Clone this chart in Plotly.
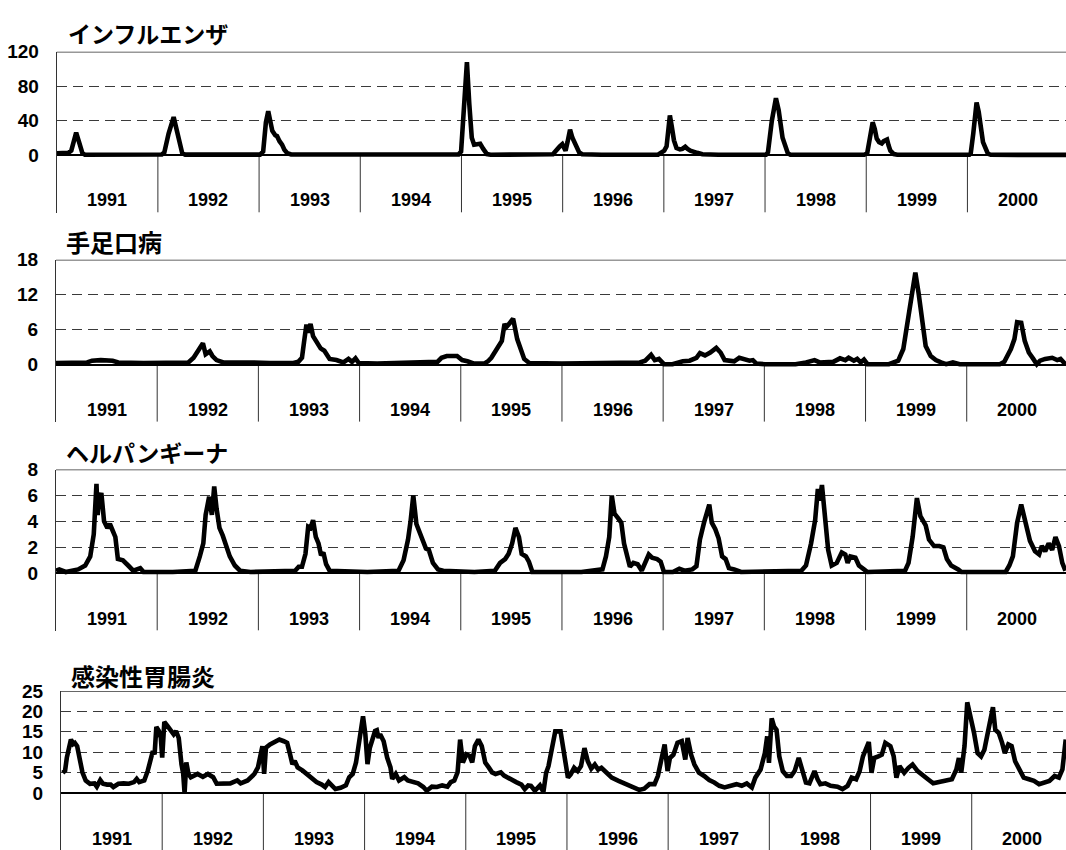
import plotly.graph_objects as go

W, H = 1066, 850
PX_PER_WEEK = 1.946

years = ["1991", "1992", "1993", "1994", "1995", "1996", "1997", "1998", "1999", "2000"]
weeks_per_year = 52

# ---- インフルエンザ (weekly index from Jan 1991, value per sentinel) ----
flu_week = [0, 4, 6, 7.5, 8.7, 10, 11.5, 13.2, 14.5, 30, 54, 55.3, 57.5, 60.1, 62.5, 64.5, 66, 90,
            104.5, 106.1, 107.5, 108.7, 110, 110.8, 112.3, 113.2, 114.5, 115.8, 117, 118.5, 120.5, 150,
            200, 206.5, 207.8, 209.5, 210.8, 212, 213.3, 214.5, 216, 217.6, 219.2, 221.1, 223, 250,
            255, 256.2, 257.1, 258.5, 259.8, 261, 261.5, 262.5, 263.8, 265, 266.8, 268.5, 270, 280,
            309, 310.7, 312.2, 313.4, 314.2, 315.1, 316, 317.2, 318.5, 320.3, 321.5, 323, 324.2, 325.6,
            329.1, 331.8, 340, 364.5, 365.5, 367.5, 369.6, 371, 373, 375.7, 377,
            415, 416.5, 417.5, 418.4, 419.3, 420.4, 421.4, 422.6, 424, 425, 426.7, 427.5, 428.4, 430.2, 432,
            469, 469.7, 471, 472, 472.7, 473.8, 476, 478.5, 480, 518.7]
flu_value = [2, 2, 2.5, 5, 18, 26, 15, 2, 0.3, 0.3, 0.5, 3, 25, 44, 22, 2, 0.4, 0.3,
             0.4, 4, 38, 51, 38, 28, 23, 22, 16, 12, 6, 2, 0.5, 0.4,
             0.3, 0.5, 4, 70, 108, 60, 20, 12, 12, 13, 7, 1, 0.3, 0.2,
             0.8, 4, 7, 10, 12.5, 6, 5, 15, 29.5, 20, 10, 3, 0.8, 0.3,
             0.3, 2.5, 5, 10, 32, 46, 34, 17, 8, 6.5, 7, 9.5, 7, 5,
             2.5, 0.8, 0.2, 0.3, 3, 40, 66, 52, 20, 2, 0.3,
             0.3, 2, 15, 32, 38, 30, 19, 15, 13.5, 16, 18, 11, 5, 1, 0.2,
             0.3, 2, 25, 50, 61, 50, 15, 1.5, 0.2, 0.1]

# ---- 手足口病 ----
hfmd_week = [0, 10, 16, 18.5, 23, 29.1, 32, 45, 60, 68, 70.7, 73, 74.2, 75.5, 76.9, 78, 79, 80.4, 82.5,
             86, 95, 100, 110, 122, 124.5, 126.4, 127.5, 128.7, 129.5, 130.8, 132.1, 134.4, 136, 137.9,
             140.6, 144.1, 147.7, 150.3, 152.1, 153.9, 155.6, 165, 180, 190, 196, 198.1, 200.8, 206.1,
             208.7, 211.4, 214.9, 220, 222, 223.7, 226.4, 229.1, 230.5, 231.5, 232.6, 234.9, 237, 238.8,
             240.6, 243.2, 260, 280, 295, 300, 302.8, 305.8, 307.7, 309.8, 312.4, 316.8, 322.1, 325.6,
             329.1, 330.9, 333.5, 336.2, 339.3, 341.5, 343.6, 346.7, 348.5, 351.1, 353.8, 356.4, 358.1,
             359.9, 364.3, 380, 385.4, 389.8, 392.4, 395.9, 399.4, 402.9, 405.6, 407.3, 410, 411.7, 413.5,
             415.2, 417, 428, 432.8, 435.4, 437.2, 439.5, 441.6, 443.3, 445.1, 446.9, 449.5, 452.1, 454.8,
             457.4, 460.9, 464.4, 485, 487.3, 490.7, 492.5, 493.9, 496, 497.8, 499.9, 502.2, 504, 505.7,
             508.3, 511.9, 514.5, 516.2, 518.7]
hfmd_value = [0.3, 0.3, 0.4, 0.7, 0.8, 0.7, 0.4, 0.3, 0.3, 0.4, 1.2, 2.3, 3.0, 3.7, 1.8, 2.2, 2.3, 1.5, 0.8,
              0.4, 0.5, 0.4, 0.3, 0.3, 0.5, 1.2, 4.0, 6.9, 5.5, 7.0, 4.9, 3.5, 2.8, 2.4,
              1.0, 0.8, 0.4, 1.0, 0.5, 1.1, 0.3, 0.2, 0.4, 0.5, 0.5, 1.2, 1.5, 1.5,
              0.8, 0.6, 0.2, 0.2, 0.6, 1.2, 2.7, 4.1, 7.0, 6.5, 6.9, 7.9, 4.4, 2.4,
              1.0, 0.3, 0.2, 0.3, 0.4, 0.4, 0.7, 1.7, 0.8, 1.0, 0.1, 0.1, 0.6, 0.7,
              1.2, 2.0, 1.6, 2.1, 2.9, 2.1, 0.8, 0.7, 0.6, 1.2, 1.0, 0.7, 0.8,
              0.2, 0.1, 0.1, 0.4, 0.8, 0.4, 0.5, 0.5, 1.1, 0.8, 1.2, 0.7, 1.0, 0.4,
              0.9, 0.1, 0.1, 0.7, 2.7, 6.6, 11.1, 15.8, 12.2, 7.1, 3.2, 1.5, 0.8, 0.4,
              0.1, 0.4, 0.1, 0.1, 0.5, 2.7, 4.4, 7.3, 7.2, 4.1, 2.1, 1.0, 0.1, 0.7,
              1.0, 1.2, 0.8, 1.0, 0.1]

# ---- ヘルパンギーナ ----
herp_week = [0, 1.7, 5, 11.4, 15, 17.6, 19.4, 20.8, 21.4, 22, 23.3, 24.7, 26.4, 27.7, 29.1, 30.5, 31.8,
             34.4, 37.1, 39.7, 43.3, 45, 60, 71.6, 73.9, 75.7, 76.9, 78.7, 80.1, 81.3, 82.5, 84, 85.7,
             87.5, 89.3, 91.9, 94.6, 100, 122.9, 124.7, 126.4, 128.2, 129.6, 130.8, 132.1, 133.5, 134.9,
             136.2, 137.4, 138.8, 140.6, 160, 176, 178.6, 180.9, 182.2, 183.6, 185.2, 187.5, 190.1, 191.6,
             193.7, 196.3, 199, 215, 225.5, 228.2, 230.8, 232.6, 234.4, 236.1, 237.9, 239.3, 241.5, 243,
             244.8, 270, 280.8, 282.6, 284.3, 285.6, 287, 289.1, 290.5, 291.9, 293.7, 294.9, 296.7, 298.9,
             301, 302.8, 304.6, 306.3, 308.9, 310.7, 312.4, 317, 320.3, 323, 327, 329.1, 330.9, 333,
             335.7, 337, 338.8, 340.5, 342.3, 344.1, 345.8, 348.5, 352, 383, 385.4, 388, 390.1, 391.5,
             392.4, 393.6, 395.2, 396.8, 398.6, 401.2, 403.8, 405.6, 406.8, 408.2, 410.8, 412.6, 415.2,
             417, 436.3, 438.1, 440.2, 442.4, 444.2, 446.9, 448.6, 451.2, 453.9, 456, 457.8, 460, 463.6,
             465.3, 488, 489.9, 491.7, 493.9, 496, 498.1, 500.5, 503.1, 505.2, 506.6, 508.3, 510.1, 511.9,
             513.6, 515.4, 517.1, 518.7]
herp_value = [0.2, 0.3, 0.1, 0.3, 0.6, 1.3, 3.0, 6.9, 4.5, 5.5, 6.2, 4.0, 3.5, 3.8, 3.3, 2.8, 1.1,
              1.0, 0.6, 0.2, 0.4, 0.1, 0.1, 0.2, 1.3, 2.3, 4.5, 5.9, 4.5, 6.7, 5.0, 3.5, 2.9,
              2.0, 1.3, 0.6, 0.2, 0.1, 0.2, 0.5, 0.5, 1.5, 3.6, 3.5, 4.1, 2.8, 2.3,
              1.4, 1.6, 0.7, 0.2, 0.1, 0.2, 1.0, 2.6, 4.0, 6.0, 3.8, 3.0, 1.9, 1.8,
              0.8, 0.3, 0.2, 0.1, 0.2, 0.8, 1.1, 1.5, 2.3, 3.5, 2.8, 1.5, 1.3, 0.9,
              0.1, 0.1, 0.3, 1.3, 2.8, 6.0, 4.6, 4.2, 3.9, 2.3, 1.3, 0.5, 0.8, 0.7,
              0.2, 0.8, 1.45, 1.2, 1.1, 0.9, 0.1, 0.1, 0.35, 0.2, 0.3, 0.55, 2.6, 3.9,
              5.3, 3.9, 3.4, 2.7, 1.3, 1.1, 0.4, 0.3, 0.1, 0.2, 0.6, 2.3, 4.1, 6.5,
              5.6, 6.8, 3.9, 1.8, 0.6, 0.8, 1.6, 1.45, 0.8, 1.3, 1.2, 0.6, 0.3,
              0.1, 0.2, 0.8, 2.8, 5.8, 4.4, 3.7, 2.6, 2.1, 2.1, 2.0, 1.1, 0.6, 0.3,
              0.1, 0.1, 0.6, 1.3, 3.9, 5.3, 3.9, 2.5, 1.7, 1.45, 2.1, 1.7, 2.3, 1.8,
              2.8, 2.1, 0.8, 0.2]

# ---- 感染性胃腸炎 ----
gastro_week = [0.9, 2.1, 3, 3.9, 5.1, 6.2, 7.1, 8.3, 9.6, 11, 12.7, 14.9, 17.2, 18.4, 20.2, 21.6, 23.7,
               25.5, 26.9, 29.5, 32.2, 34.9, 37.5, 38.9, 40.2, 42.8, 44.6, 46, 47.2, 48.1, 49, 50.3,
               51.3, 52, 53.1, 54.8, 56.6, 57.9, 59.1, 60.5, 61.9, 62.8, 63.5, 64.4, 65.5, 66.7, 70.2,
               72.9, 75.5, 78.2, 80, 83.5, 87, 90.6, 92.3, 95.9, 99.4, 101.2, 102.5, 103.5, 104.4, 105.3,
               107.4, 110.1, 112.2, 114.5, 116.2, 117.5, 118.9, 120.1, 121.6, 124.2, 126, 128.6, 131.3,
               134, 135.7, 137.5, 139.3, 141, 143.7, 146.4, 148.1, 149.9, 151.6, 152.9, 154, 155.2,
               156.4, 157.5, 158.7, 160, 161.4, 162.3, 163.2, 164, 165.8, 167.6, 169.3, 170.2, 172,
               173.7, 176.4, 178.2, 180.8, 183.5, 186.2, 187.9, 190.6, 193.2, 195.9, 198.6, 200.3, 202.1,
               203.8, 205.1, 206.5, 208.3, 210, 211.3, 212.7, 214.5, 216.2, 218, 219.8, 221.5, 223.3,
               226, 227.7, 230.4, 233.9, 236.6, 238.3, 240.1, 241.5, 243.5, 246.1, 247.9, 249.3, 250.5,
               252.3, 254, 256.7, 258.4, 260.5, 261.9, 263.7, 265.5, 267.2, 269, 270.7, 272.5, 274.3,
               276, 277.7, 280.4, 283, 286.5, 289.2, 291.8, 294.4, 297.1, 299.7, 302.4, 305, 306.7,
               308.5, 310.2, 311.7, 312.9, 314.7, 316.8, 319, 320.8, 322, 323.8, 325.5, 327.8, 330.5,
               333.1, 335.7, 338.3, 341, 344.5, 347.1, 349.8, 352.4, 355, 356.8, 359.5, 361.7, 362.9,
               363.8, 365.2, 366.4, 367.7, 369.1, 370.9, 373, 375.2, 377, 379.1, 380.9, 382.8, 384.6,
               385.8, 387.2, 388.8, 390.2, 392.8, 395.5, 399, 401.6, 404.2, 406.3, 408.6, 410.4, 412.1,
               413.9, 415.1, 416.5, 417.9, 420, 421.8, 423.6, 426.2, 427.9, 429.3, 430.9, 433.3, 435.5,
               437.6, 440.2, 442.9, 445.5, 448.2, 451.7, 454.3, 457.8, 460.1, 461.4, 462.6, 464.3, 465.7,
               467.5, 469.2, 471, 472.8, 474.5, 476.3, 478.9, 480.1, 481.9, 483.6, 485, 486.8, 488.5,
               490.3, 492.4, 494.7, 497.4, 500, 502.6, 505.3, 507.9, 510.6, 512.8, 514.6, 516.3]
gastro_value = [5, 5.5, 8.7, 10.7, 13.1, 12, 12.3, 11.5, 7.9, 5.1, 3.1, 2.3, 2.4, 1.6, 3.2, 2.3, 2.1,
                2.1, 1.5, 2.3, 2.4, 2.3, 2.7, 3.5, 2.7, 3.1, 5.5, 8.7, 10.3, 9.5, 16.2, 15.2,
                13.5, 8.7, 17.4, 16.4, 15.2, 14.4, 15.2, 13.5, 7.1, 4.7, 0, 7.5, 4.7, 3.9, 4.7,
                4, 4.7, 3.9, 2.3, 2.3, 2.4, 3.1, 2.4, 3.1, 4.7, 6.3, 9.5, 11.5, 4.7, 11.1,
                11.9, 12.7, 13.1, 12.7, 12.3, 9.9, 7.1, 7.9, 6.3, 5.5, 4.7, 3.9, 2.7,
                2.1, 1.5, 2.7, 1.9, 1.0, 1.3, 1.9, 3.9, 4.7, 7.5, 11.5, 15.2, 18.8,
                14.4, 7.1, 11.1, 12.7, 15.2, 15.4, 13.5, 14.4, 12.7, 8.7, 6.3, 3.5, 4.7,
                3.1, 3.9, 3.1, 2.7, 2.4, 1.5, 0.6, 1.6, 1.5, 1.9, 1.6, 2.7, 3.1,
                5.1, 13.1, 7.5, 9.5, 9.1, 7.5, 11.5, 13.1, 11.5, 7.5, 6.3, 5.1, 4.7,
                5.1, 4.3, 3.5, 2.7, 2.1, 1.0, 1.9, 1.8, 0.6, 1.9, 0.3, 5, 6.6,
                11.5, 15.1, 15.1, 10.6, 3.8, 4.6, 6.2, 5.4, 6.6, 11, 7.8, 6, 7,
                5.8, 6.2, 5, 3.8, 3, 2.4, 1.8, 1.4, 0.8, 1.1, 2.2, 2.2, 4.2,
                8.2, 11.9, 5.4, 8.6, 9.4, 12.3, 12.7, 8.2, 13.5, 9.4, 7, 5, 4.2,
                3.2, 2.6, 1.8, 1.4, 1.8, 2.2, 1.8, 2.4, 1.4, 3.8, 5.8, 9.8, 13.9,
                7.4, 18.3, 16.3, 15.5, 9, 5.4, 4.2, 4.2, 5.4, 8.6, 5.4, 2.6, 2.4,
                4.2, 5.4, 3.4, 2.2, 2.4, 1.8, 1.6, 1.0, 1.8, 3.8, 3.4, 5.4, 9,
                11, 12.5, 5, 8.6, 9, 9.4, 12.3, 11.5, 9, 3.8, 6.6, 5, 6.2,
                7, 5.4, 4.2, 3.4, 2.4, 2.7, 3, 3.4, 5.8, 8.6, 5, 11.5, 22.2,
                18.7, 14.7, 9.8, 9, 10.6, 15.5, 21, 15.5, 14.7, 12.3, 9.8, 11.9, 11.5,
                7.8, 5.8, 3.8, 3.4, 3, 2.2, 2.6, 3, 4.2, 3.8, 5.8, 13.1]

for a, b in [(flu_week, flu_value), (hfmd_week, hfmd_value), (herp_week, herp_value),
             (gastro_week, gastro_value)]:
    assert len(a) == len(b), (len(a), len(b))

# layout geometry per panel (pixel positions in the 1066x850 page)
panels = [
    dict(title="インフルエンザ", x=flu_week, y=flu_value, ticks=[0, 40, 80, 120],
         top=42.3, zero=146.7, bottom=205, left=56.7, title_x=66, title_y=23, title_size=23),
    dict(title="手足口病", x=hfmd_week, y=hfmd_value, ticks=[0, 6, 12, 18],
         top=252.7, zero=359, bottom=416.7, left=56.0, title_x=64, title_y=234, title_size=24),
    dict(title="ヘルパンギーナ", x=herp_week, y=herp_value, ticks=[0, 2, 4, 6, 8],
         top=465, zero=570, bottom=628, left=56.0, title_x=64, title_y=447, title_size=23),
    dict(title="感染性胃腸炎", x=gastro_week, y=gastro_value, ticks=[0, 5, 10, 15, 20, 25],
         top=689, zero=792.5, bottom=850, left=61.0, title_x=69, title_y=673, title_size=24),
]

fig = go.Figure()
shapes = []
annotations = []
tick_font = dict(family="Liberation Sans, Arial, sans-serif", size=19, color="black", weight="bold")
year_font = dict(family="Liberation Sans, Arial, sans-serif", size=18, color="black", weight="bold")

for i, p in enumerate(panels, start=1):
    xa = "x" if i == 1 else f"x{i}"
    ya = "y" if i == 1 else f"y{i}"
    ymax = p["ticks"][-1]
    ppu = (p["zero"] - p["top"]) / ymax
    ymin = -(p["bottom"] - p["zero"]) / ppu
    xmax = (W - p["left"]) / PX_PER_WEEK

    fig.add_trace(go.Scatter(x=p["x"], y=p["y"], mode="lines",
                             line=dict(color="black", width=4.6),
                             xaxis=xa, yaxis=ya, showlegend=False, hoverinfo="skip"))

    xkey = "xaxis" if i == 1 else f"xaxis{i}"
    ykey = "yaxis" if i == 1 else f"yaxis{i}"
    fig.layout[xkey] = dict(domain=[p["left"] / W, 1], range=[0, xmax], visible=False,
                            anchor=ya)
    fig.layout[ykey] = dict(domain=[1 - p["bottom"] / H, 1 - p["top"] / H],
                            range=[ymin, ymax], anchor=xa,
                            tickvals=p["ticks"], ticktext=[str(t) for t in p["ticks"]],
                            tickfont=tick_font, ticks="", ticklabelstandoff=13,
                            showgrid=True, gridcolor="#3a3a3a", gridwidth=1,
                            griddash="10px,6px",
                            zeroline=True, zerolinecolor="black", zerolinewidth=1.6,
                            showline=True, linecolor="#333333", linewidth=1)

    # top border
    shapes.append(dict(type="line", xref=f"{xa} domain", yref=ya, x0=0, x1=1, y0=ymax, y1=ymax,
                       line=dict(color="#333333", width=1.5), layer="above"))
    # year separators in the band below the zero line
    for k in range(1, len(years)):
        xv = k * weeks_per_year
        shapes.append(dict(type="line", xref=xa, yref=ya, x0=xv, x1=xv, y0=0, y1=ymin,
                           line=dict(color="#333333", width=1), layer="below"))
    # year labels
    label_y = -46 / ppu
    for k, yr in enumerate(years):
        annotations.append(dict(x=k * weeks_per_year + weeks_per_year / 2, y=label_y, xref=xa, yref=ya,
                                text=yr, showarrow=False, font=year_font,
                                xanchor="center", yanchor="middle"))
    # panel title
    annotations.append(dict(x=p["title_x"] / W, y=1 - p["title_y"] / H, xref="paper", yref="paper",
                            text=p["title"], showarrow=False,
                            font=dict(family="Noto Sans CJK JP", size=p["title_size"],
                                      color="black", weight="bold"),
                            xanchor="left", yanchor="middle"))

fig.update_layout(width=W, height=H, margin=dict(l=0, r=0, t=0, b=0),
                  paper_bgcolor="white", plot_bgcolor="white",
                  shapes=shapes, annotations=annotations, showlegend=False)

fig.write_html("out.html", config={"displayModeBar": False},
               post_script="document.body.style.margin='0';document.body.style.overflow='hidden';")
